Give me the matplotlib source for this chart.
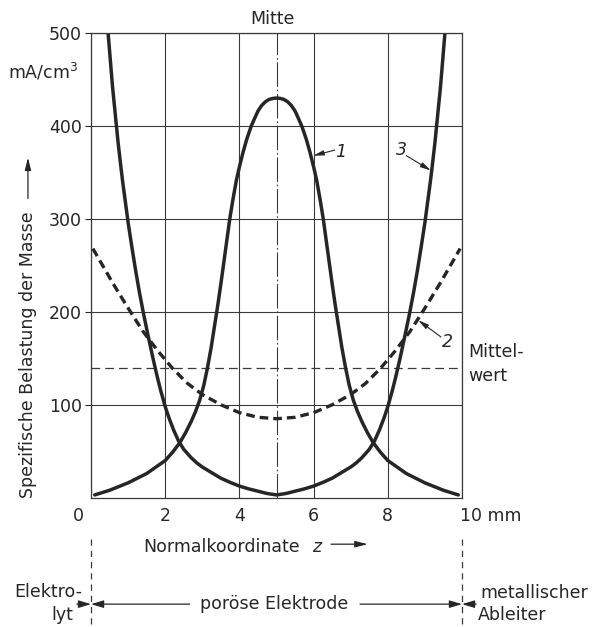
import matplotlib
matplotlib.use("Agg")
import matplotlib.pyplot as plt
from matplotlib.transforms import ScaledTranslation

plt.rcParams['font.family'] = ['DejaVu Sans']
plt.rcParams['font.size'] = 12.5

# curve 1: bell shaped, maximum in the middle
z1 = [0.1, 0.5, 1.0, 1.5, 2.0, 2.2, 2.39, 2.55, 2.7, 2.82, 2.93, 3.04, 3.14, 3.24, 3.33, 3.42,
      3.5, 3.62, 3.74, 3.83, 3.92, 4.0, 4.1, 4.2, 4.32, 4.42, 4.5, 4.6, 4.7, 4.8, 4.9, 5.0,
      5.1, 5.2, 5.3, 5.4, 5.5, 5.58, 5.68, 5.8, 5.9, 6.0, 6.08, 6.17, 6.26, 6.38, 6.5, 6.58,
      6.67, 6.76, 6.86, 6.96, 7.07, 7.18, 7.3, 7.45, 7.61, 7.8, 8.0, 8.5, 9.0, 9.5, 9.9]
v1 = [3, 8, 16, 26, 40, 49, 59, 70, 82, 93, 105, 121, 140, 162, 185, 208,
      230, 265, 300, 322, 342, 356, 372, 386, 400, 409, 416, 422, 426, 428.5, 429.6, 430,
      429.6, 428.5, 426, 422, 416, 409, 400, 386, 372, 356, 342, 322, 300, 265, 230, 208,
      185, 162, 140, 121, 105, 93, 82, 70, 59, 49, 40, 26, 16, 8, 3]

# curve 2: dashed, shallow trough
z2 = [0.05, 0.6, 1.0, 1.4, 1.8, 2.2, 2.6, 3.0, 3.5, 4.0, 4.5, 5.0,
      5.5, 6.0, 6.5, 7.0, 7.4, 7.8, 8.2, 8.6, 9.0, 9.4, 9.95]
v2 = [268, 230, 204, 179, 158, 139, 123, 111, 100, 91.5, 86.5, 85,
      86.5, 91.5, 100, 111, 123, 139, 158, 179, 204, 230, 268]

# curve 3: high at both edges
z3 = [0.46, 0.52, 0.58, 0.65, 0.73, 0.79, 0.85, 0.92, 1.0, 1.1, 1.2, 1.3, 1.41, 1.54, 1.67,
      1.78, 1.88, 2.0, 2.1, 2.23, 2.36, 2.5, 2.7, 2.85, 3.0, 3.25, 3.5, 3.75, 4.0, 4.25, 4.5,
      4.75, 5.0,
      5.25, 5.5, 5.75, 6.0, 6.25, 6.5, 6.75, 7.0, 7.15, 7.3, 7.5, 7.64, 7.77, 7.9, 8.0, 8.12,
      8.22, 8.33, 8.46, 8.59, 8.7, 8.8, 8.9, 9.0, 9.08, 9.15, 9.21, 9.27, 9.35, 9.42, 9.48, 9.54]
v3 = [500, 471, 442, 414, 382, 361, 341, 320, 296, 270, 245, 222, 199, 174, 150,
      131, 115, 98, 86, 72.5, 61, 52, 43, 37.5, 33, 27, 21, 16.5, 12.5, 9.5, 7,
      4.5, 3,
      4.5, 7, 9.5, 12.5, 16.5, 21, 27, 33, 37.5, 43, 52, 61, 72.5, 86, 98, 115,
      131, 150, 174, 199, 222, 245, 270, 296, 320, 341, 361, 382, 414, 442, 471, 500]

mittelwert = 140
y_ticks = [100, 200, 300, 400, 500]
x_ticks = [0, 2, 4, 6, 8, 10]
x_labels = ['0', '2', '4', '6', '8', '10 mm']

ink = '#262626'
grid_ink = '#3a3a3a'

fig = plt.figure(figsize=(5.93, 6.27), dpi=100)
ax = fig.add_axes([0.1535, 0.2062, 0.6256, 0.7412])
ax.set_xlim(0, 10)
ax.set_ylim(0, 500)

ax.set_yticks(y_ticks)
ax.set_yticklabels([str(v) for v in y_ticks])
ax.set_xticks(x_ticks)
ax.set_xticklabels(x_labels)
ax.tick_params(axis='y', direction='out', length=4.5, width=0.8, pad=2, colors=ink)
ax.tick_params(axis='x', length=0, pad=7, colors=ink)
ax.grid(True, color=grid_ink, lw=0.8)
for sp in ax.spines.values():
    sp.set_color(grid_ink)
    sp.set_linewidth(0.9)

lbls = ax.get_xticklabels()
lbls[0].set_transform(lbls[0].get_transform() + ScaledTranslation(-0.13, 0, fig.dpi_scale_trans))
lbls[-1].set_horizontalalignment('left')
lbls[-1].set_transform(lbls[-1].get_transform() + ScaledTranslation(-0.02, 0, fig.dpi_scale_trans))

# middle line and mean value
ax.axvline(5, color=grid_ink, lw=0.8, dashes=(22, 2.5, 1.5, 2.5))
ax.plot([0, 10], [mittelwert, mittelwert], color=grid_ink, lw=0.9, dashes=(7, 4))

# curves
line_kw = dict(color=ink, lw=2.5, solid_capstyle='round', solid_joinstyle='round')
ax.plot(z1, v1, **line_kw)
ax.plot(z3, v3, **line_kw)
ax.plot(z2, v2, color=ink, lw=2.4, dashes=(2.6, 1.5))

# curve labels
arr = dict(arrowstyle='-|>,head_length=0.5,head_width=0.12', color=ink, lw=0.8, shrinkA=0, shrinkB=0)
ax.annotate('', xy=(5.99, 368), xytext=(6.57, 374), arrowprops=arr)
ax.text(6.72, 372, '1', style='italic', ha='center', va='center', color=ink)
ax.annotate('', xy=(9.16, 352), xytext=(8.5, 368), arrowprops=arr)
ax.text(8.36, 374, '3', style='italic', ha='center', va='center', color=ink)
ax.annotate('', xy=(8.82, 191), xytext=(9.43, 173), arrowprops=arr)
ax.text(9.6, 167, '2', style='italic', ha='center', va='center', color=ink)

ax.text(4.9, 515, 'Mitte', ha='center', va='center', color=ink)
ax.text(10.18, 157, 'Mittel-', ha='left', va='center', color=ink)
ax.text(10.18, 131, 'wert', ha='left', va='center', color=ink)
ax.text(-2.24, 458, 'mA/cm$^3$', ha='left', va='center', color=ink)

# axis titles
ax.text(-1.7, 0, 'Spezifische Belastung der Masse', rotation=90, ha='center', va='bottom',
        color=ink, clip_on=False)
ax.annotate('', xy=(-1.7, 366), xytext=(-1.7, 322), annotation_clip=False,
            arrowprops=dict(arrowstyle='-|>,head_length=0.6,head_width=0.15', color=ink, lw=0.9,
                            shrinkA=0, shrinkB=0))
ax.text(1.4, -53, 'Normalkoordinate', ha='left', va='center', color=ink, clip_on=False)
ax.text(6.12, -53, '$z$', ha='center', va='center', color=ink, clip_on=False)
ax.annotate('', xy=(7.46, -50), xytext=(6.47, -50), annotation_clip=False,
            arrowprops=dict(arrowstyle='-|>,head_length=0.6,head_width=0.15', color=ink, lw=0.9,
                            shrinkA=0, shrinkB=0))

# electrode zones below the axis
for zb in [0, 10]:
    ax.plot([zb, zb], [-44, -140], color=grid_ink, lw=0.9, dashes=(5, 4), clip_on=False)

arr_small = dict(arrowstyle='-|>,head_length=0.6,head_width=0.18', color=ink, lw=0.9,
                 shrinkA=0, shrinkB=0)
ax.annotate('', xy=(0, -114.5), xytext=(-0.38, -114.5), annotation_clip=False, arrowprops=arr_small)
ax.annotate('', xy=(0, -114.5), xytext=(2.66, -114.5), annotation_clip=False, arrowprops=arr_small)
ax.annotate('', xy=(10, -114.5), xytext=(7.25, -114.5), annotation_clip=False, arrowprops=arr_small)
ax.annotate('', xy=(10, -114.5), xytext=(10.38, -114.5), annotation_clip=False, arrowprops=arr_small)

ax.text(4.93, -114.5, 'poröse Elektrode', ha='center', va='center', color=ink, clip_on=False)
ax.text(-0.24, -101.6, 'Elektro-', ha='right', va='center', color=ink, clip_on=False)
ax.text(-0.77, -126.4, 'lyt', ha='center', va='center', color=ink, clip_on=False)
ax.text(10.5, -103, 'metallischer', ha='left', va='center', color=ink, clip_on=False)
ax.text(10.43, -126.4, 'Ableiter', ha='left', va='center', color=ink, clip_on=False)

fig.savefig('out.png', dpi=100, facecolor='white')
